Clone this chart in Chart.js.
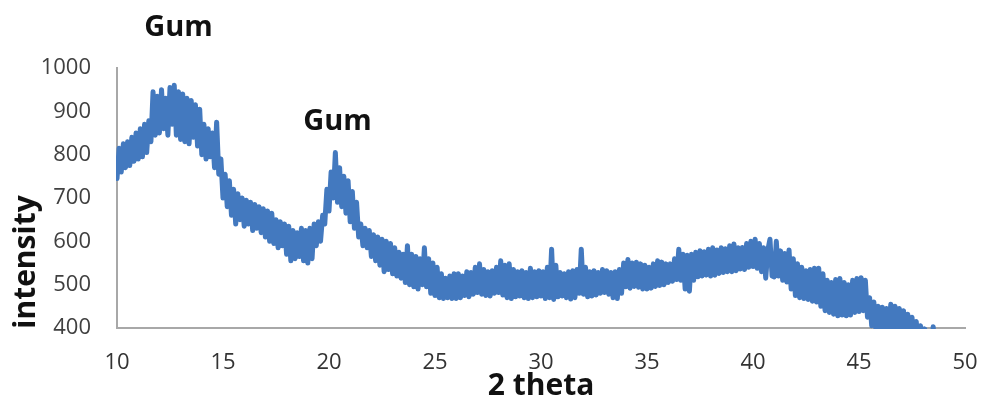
<!DOCTYPE html>
<html lang="en">
<head>
    <meta charset="UTF-8">
    <title>XRD pattern - Gum</title>
    <script src="https://cdn.jsdelivr.net/npm/chart.js"></script>
    <style>
        html, body {
            margin: 0;
            padding: 0;
            background: #ffffff;
        }
        #wrap {
            width: 982px;
            height: 404px;
        }
    </style>
</head>
<body>
    <div id="wrap"><canvas id="xrdChart" width="982" height="404"></canvas></div>

    <script>
        const startAngle = 10;
        const angleStep = 0.1;
        const intensity = [
            745, 815, 760, 825, 770, 830, 775, 840, 785, 850,   // 10
            790, 860, 795, 870, 805, 878, 830, 945, 845, 935,   // 11
            850, 950, 860, 930, 845, 955, 870, 960, 845, 945,   // 12
            835, 940, 830, 930, 825, 925, 840, 915, 820, 905,   // 13
            800, 870, 790, 860, 795, 850, 770, 875, 755, 790,   // 14
            700, 755, 680, 740, 660, 720, 640, 710, 650, 700,   // 15
            635, 695, 640, 690, 625, 685, 630, 680, 620, 675,   // 16
            610, 670, 600, 665, 595, 650, 585, 645, 590, 640,   // 17
            570, 635, 555, 625, 560, 620, 565, 630, 555, 625,   // 18
            550, 630, 560, 640, 590, 645, 600, 660, 640, 720,   // 19
            670, 760, 700, 805, 690, 770, 680, 750, 665, 740,   // 20
            645, 715, 630, 690, 610, 640, 590, 630, 585, 625,   // 21
            565, 615, 555, 610, 545, 605, 530, 600, 535, 595,   // 22
            525, 585, 520, 575, 515, 570, 505, 590, 500, 570,   // 23
            495, 565, 490, 560, 500, 585, 495, 560, 480, 550,   // 24
            475, 540, 470, 525, 468, 515, 470, 520, 468, 525,   // 25
            468, 525, 470, 520, 475, 530, 472, 528, 478, 540,   // 26
            482, 548, 478, 535, 475, 530, 474, 532, 480, 540,   // 27
            482, 555, 476, 545, 470, 548, 468, 535, 472, 530,   // 28
            474, 532, 470, 528, 468, 538, 470, 530, 472, 532,   // 29
            474, 530, 468, 540, 470, 582, 466, 545, 472, 528,   // 30
            474, 525, 470, 530, 467, 532, 470, 535, 480, 582,   // 31
            478, 540, 472, 530, 474, 532, 476, 528, 480, 535,   // 32
            482, 532, 478, 528, 470, 530, 468, 535, 480, 550,   // 33
            495, 558, 492, 550, 496, 552, 494, 548, 490, 545,   // 34
            490, 540, 492, 548, 496, 555, 498, 552, 500, 548,   // 35
            505, 548, 508, 560, 512, 582, 510, 570, 490, 568,   // 36
            485, 570, 510, 575, 518, 578, 520, 576, 522, 582,   // 37
            520, 585, 522, 580, 526, 585, 528, 583, 530, 590,   // 38
            530, 594, 532, 585, 536, 586, 535, 595, 540, 600,   // 39
            542, 605, 538, 595, 530, 585, 515, 580, 605, 520,   // 40
            518, 600, 520, 578, 510, 572, 506, 580, 490, 560,   // 41
            475, 548, 470, 540, 468, 532, 466, 535, 462, 538,   // 42
            460, 538, 450, 525, 440, 510, 436, 505, 432, 512,   // 43
            428, 514, 430, 505, 428, 500, 430, 510, 436, 514,   // 44
            438, 516, 440, 510, 425, 470, 405, 460, 395, 450,   // 45
            385, 448, 380, 445, 390, 455, 385, 450, 380, 445,   // 46
            375, 440, 370, 432, 365, 425, 360, 415, 355, 405,   // 47
            350, 398, 340, 360, 330, 403, 330                   // 48
        ];

        const xRange = [10, 50];
        const yRange = [400, 1000];
        const xTickStep = 5;
        const yTickStep = 100;

        // peak annotations, in data units (angle, intensity)
        const peakLabels = ['Gum', 'Gum'];
        const peakAngles = [12.9, 20.4];
        const peakLevels = [1092, 875];

        const xTitle = '2 theta';
        const yTitle = 'intensity';

        const points = intensity.map((v, i) => ({
            x: +(startAngle + i * angleStep).toFixed(1),
            y: v
        }));

        const textPlugin = {
            id: 'textPlugin',
            afterDraw(chart) {
                const ctx = chart.ctx;
                const xs = chart.scales.x;
                const ys = chart.scales.y;
                ctx.save();
                ctx.fillStyle = '#111111';
                ctx.textAlign = 'center';
                ctx.textBaseline = 'middle';
                ctx.font = 'bold 29px "Open Sans"';
                peakLabels.forEach((t, i) => {
                    ctx.fillText(t, xs.getPixelForValue(peakAngles[i]), ys.getPixelForValue(peakLevels[i]));
                });

                // axis titles
                ctx.font = 'bold 30px "Open Sans"';
                ctx.fillText(xTitle, (chart.chartArea.left + chart.chartArea.right) / 2, 386);
                ctx.translate(26, 262);
                ctx.rotate(-Math.PI / 2);
                ctx.fillText(yTitle, 0, 0);
                ctx.restore();
            }
        };

        new Chart(document.getElementById('xrdChart'), {
            type: 'line',
            data: {
                datasets: [{
                    data: points,
                    borderColor: '#4379bf',
                    borderWidth: 5,
                    borderJoinStyle: 'round',
                    borderCapStyle: 'round',
                    pointRadius: 0,
                    tension: 0,
                    clip: 1
                }]
            },
            options: {
                responsive: false,
                animation: false,
                events: [],
                layout: {
                    padding: { top: 68, right: 0, bottom: 0, left: 0 }
                },
                plugins: {
                    legend: { display: false },
                    tooltip: { enabled: false }
                },
                scales: {
                    x: {
                        type: 'linear',
                        min: xRange[0],
                        max: xRange[1],
                        afterFit: s => {
                            s.height = 76;
                            s.paddingLeft = 0;
                            s.paddingRight = 17;
                        },
                        grid: { display: true, drawOnChartArea: false, drawTicks: false },
                        border: { display: true, color: '#a8a8a8', width: 2 },
                        ticks: {
                            stepSize: xTickStep,
                            padding: 22,
                            color: '#333333',
                            font: { family: 'Open Sans', size: 22 },
                            callback: v => String(v)
                        }
                    },
                    y: {
                        min: yRange[0],
                        max: yRange[1],
                        afterFit: s => { s.width = 117; },
                        grid: { display: true, drawOnChartArea: false, drawTicks: false },
                        border: { display: true, color: '#a8a8a8', width: 2 },
                        ticks: {
                            stepSize: yTickStep,
                            padding: 26,
                            color: '#404040',
                            font: { family: 'Open Sans', size: 22 },
                            callback: v => String(v)
                        }
                    }
                }
            },
            plugins: [textPlugin]
        });
    </script>
</body>
</html>
